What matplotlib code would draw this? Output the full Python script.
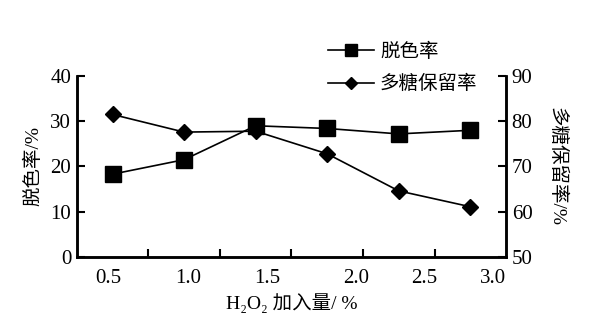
import matplotlib.pyplot as plt
from matplotlib.lines import Line2D

plt.rcParams['font.family'] = ['Liberation Serif', 'Noto Sans CJK SC', 'DejaVu Serif']

# H2O2 dosage (%) and the two responses
h2o2 = [0.5, 1.0, 1.5, 2.0, 2.5, 3.0]
decolor = [18.3, 21.5, 29.0, 28.4, 27.2, 28.0]
retention = [81.5, 77.6, 77.8, 72.8, 64.6, 61.1]

tick_labels = ['0.5', '1.0', '1.5', '2.0', '2.5', '3.0']
label_pos = [0.47, 1.03, 1.58, 2.20, 2.68, 3.16]
mid_ticks = [0.75, 1.25, 1.75, 2.25, 2.75]

fig = plt.figure(figsize=(6.09, 3.29), dpi=100)
ax = fig.add_axes([0.126, 0.219, 0.705, 0.550])
ax2 = ax.twinx()

ax.plot(h2o2, decolor, color='black', lw=1.2, marker='s', ms=11.5,
        markerfacecolor='black', zorder=3)
ax2.plot(h2o2, retention, color='black', lw=1.2, marker='D', ms=8,
         markerfacecolor='black', zorder=3)

ax.set_xlim(0.25, 3.25)
ax.set_ylim(0, 40)
ax2.set_ylim(50, 90)
ax.set_yticks([0, 10, 20, 30, 40])
ax2.set_yticks([50, 60, 70, 80, 90])

# category style x axis: unlabelled marks between points, labels below
ax.set_xticks(mid_ticks, minor=True)
ax.set_xticks(label_pos)
ax.set_xticklabels(tick_labels)
ax.tick_params(axis='x', which='major', length=0, pad=9, labelsize=15)
ax.tick_params(axis='x', which='minor', direction='in', length=6, width=1.5)
ax.tick_params(axis='y', direction='in', length=6, width=1.5, labelsize=15, pad=4)
ax2.tick_params(axis='y', direction='in', length=6, width=1.5, labelsize=15, pad=4)

for a in (ax, ax2):
    a.spines['top'].set_visible(False)
    for s in ('left', 'right', 'bottom'):
        a.spines[s].set_linewidth(1.8)

ax.set_ylabel('脱色率/%', fontsize=14, labelpad=6)
ax2.set_ylabel('多糖保留率/%', fontsize=14, rotation=-90, labelpad=24)
ax.set_xlabel('H₂O₂ 加入量/ %', fontsize=14, labelpad=3)

handles = [
    Line2D([], [], color='black', lw=1.2, marker='s', ms=8),
    Line2D([], [], color='black', lw=1.2, marker='D', ms=6),
]
fig.legend(handles, ['脱色率', '多糖保留率'], loc='upper left',
           bbox_to_anchor=(0.525, 0.895), frameon=False, fontsize=14,
           handlelength=2.4, handletextpad=0.3, labelspacing=0.75,
           borderaxespad=0)

fig.savefig('out.png', dpi=100)
